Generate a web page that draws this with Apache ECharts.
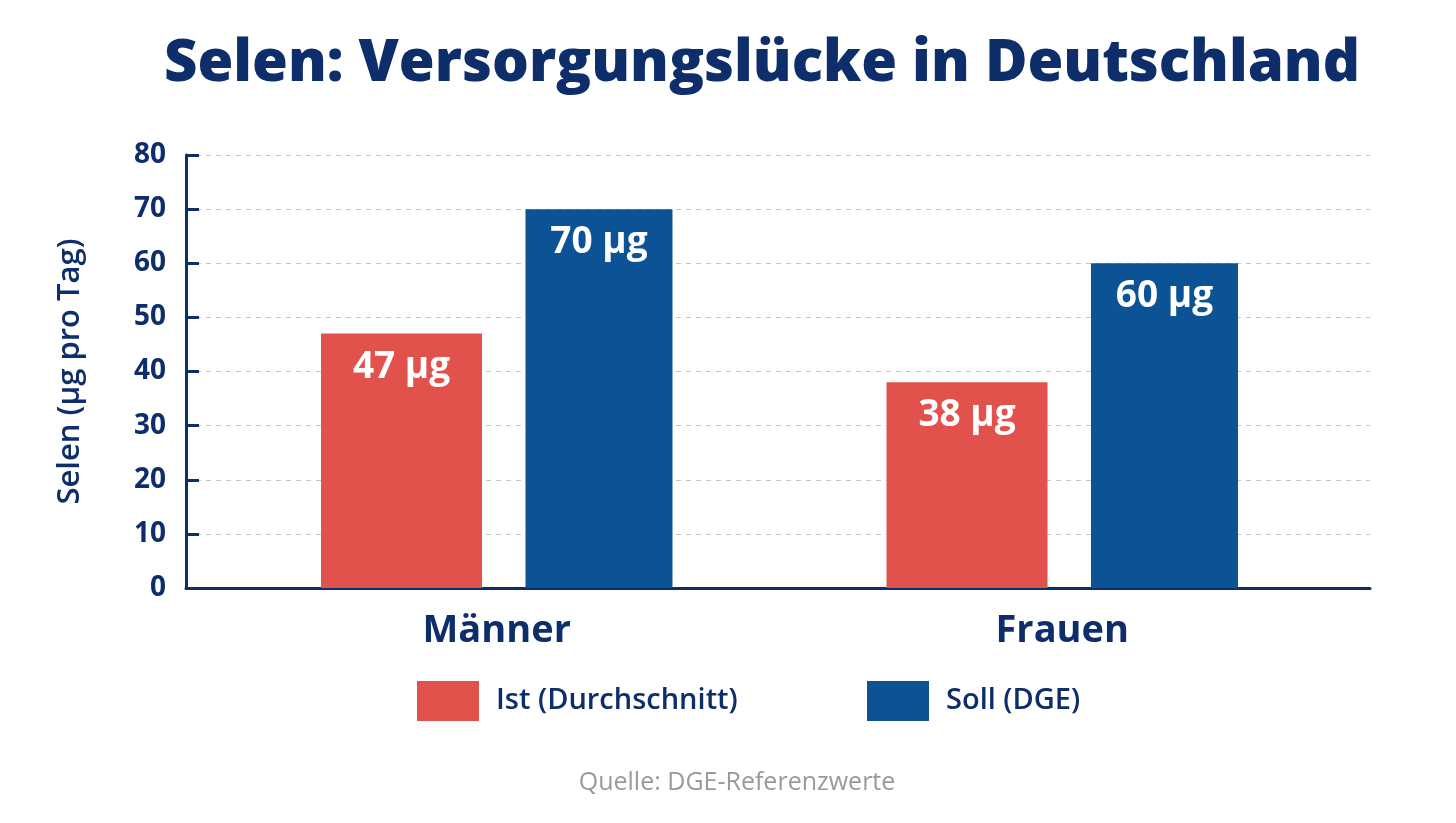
<!DOCTYPE html>
<html>
<head>
<meta charset="utf-8">
<script src="https://cdn.jsdelivr.net/npm/echarts@6/dist/echarts.min.js"></script>
<style>
  html, body { margin: 0; padding: 0; background: #ffffff; }
  #chart { width: 1456px; height: 823px; }
</style>
</head>
<body>
<div id="chart"></div>
<script>
// daten
const categories = ['Männer', 'Frauen'];
const istWerte = [47, 38];
const sollWerte = [70, 60];
const seriesNames = ['Ist (Durchschnitt)', 'Soll (DGE)'];

const navy = '#0d2e6a';
const rot = '#e0524b';
const blau = '#0b5394';
const fontFam = '"Open Sans", "Noto Sans", sans-serif';

const chart = echarts.init(document.getElementById('chart'));

function barLabel() {
  return {
    show: true,
    position: 'insideTop',
    distance: 15,
    color: '#ffffff',
    fontSize: 37,
    fontWeight: 'bold',
    fontFamily: fontFam,
    formatter: p => p.value + ' µg'
  };
}

function legendAt(name, left) {
  return {
    data: [name],
    left: left,
    top: 676,
    itemWidth: 62,
    itemHeight: 40,
    icon: 'rect',
    selectedMode: false,
    textStyle: { color: navy, fontSize: 29, fontWeight: 600, fontFamily: fontFam, padding: [0, 0, 0, 12] }
  };
}

chart.setOption({
  backgroundColor: '#ffffff',
  title: [{
    text: 'Selen: Versorgungslücke in Deutschland',
    left: 757,
    top: 30,
    textAlign: 'center',
    textStyle: { color: navy, fontSize: 58, fontWeight: 800, fontFamily: fontFam }
  }, {
    text: 'Quelle: DGE-Referenzwerte',
    left: 732,
    top: 765,
    textAlign: 'center',
    textStyle: { color: '#9a9a9a', fontSize: 25, fontWeight: 'normal', fontFamily: fontFam }
  }],
  legend: [legendAt(seriesNames[0], 412), legendAt(seriesNames[1], 862)],
  // grid 0: achsen, grid 1: balken
  grid: [
    { left: 186, right: 86, top: 155, bottom: 235 },
    { left: 214, right: 111, top: 155, bottom: 235 }
  ],
  xAxis: [{
    type: 'category',
    gridIndex: 0,
    data: categories,
    axisLine: { show: true, lineStyle: { color: navy, width: 3 } },
    axisTick: { show: false },
    axisLabel: { show: false }
  }, {
    type: 'category',
    gridIndex: 1,
    data: categories,
    axisLine: { show: false },
    axisTick: { show: false },
    axisLabel: { color: navy, fontSize: 38, fontWeight: 'bold', fontFamily: fontFam, margin: 24 }
  }],
  yAxis: [{
    type: 'value',
    gridIndex: 0,
    min: 0,
    max: 80,
    interval: 10,
    name: 'Selen (µg pro Tag)',
    nameLocation: 'middle',
    nameGap: 100,
    nameRotate: 90,
    nameTextStyle: { color: navy, fontSize: 31, fontWeight: 600, fontFamily: fontFam },
    axisLine: { show: true, lineStyle: { color: navy, width: 3 } },
    axisTick: { show: true, inside: true, length: 13, lineStyle: { color: navy, width: 3 } },
    axisLabel: { color: navy, fontSize: 28, fontWeight: 'bold', fontFamily: fontFam, margin: 20 },
    splitLine: { show: true, lineStyle: { color: '#c4c4c4', type: [5, 5], width: 1 } }
  }, {
    type: 'value',
    gridIndex: 1,
    min: 0,
    max: 80,
    interval: 10,
    show: false,
    splitLine: { show: false }
  }],
  series: [{
    name: seriesNames[0],
    type: 'bar',
    xAxisIndex: 1,
    yAxisIndex: 1,
    data: istWerte,
    barWidth: 161,
    barGap: '27%',
    itemStyle: { color: rot },
    label: barLabel()
  }, {
    name: seriesNames[1],
    type: 'bar',
    xAxisIndex: 1,
    yAxisIndex: 1,
    data: sollWerte,
    barWidth: 147,
    itemStyle: { color: blau },
    label: barLabel()
  }]
});
</script>
</body>
</html>
